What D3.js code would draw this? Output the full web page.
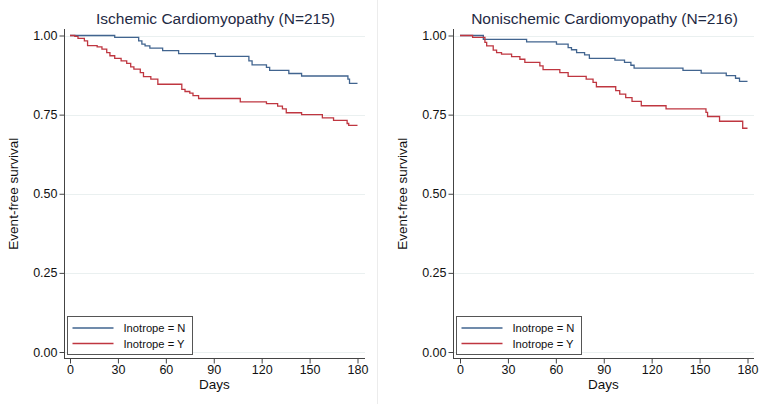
<!DOCTYPE html>
<html><head><meta charset="utf-8">
<script src="https://cdn.jsdelivr.net/npm/d3@7"></script>
<style>body{margin:0;background:#fff}svg{display:block}text{font-family:"Liberation Sans",Arial,sans-serif}</style>
</head><body><svg id="c" width="764" height="404"></svg>
<script>
// ---- data ----
const xTicks = [0, 30, 60, 90, 120, 150, 180];
const yTicks = [0, 0.25, 0.5, 0.75, 1];
const seriesNames = ["Inotrope = N", "Inotrope = Y"];
const panelTitles = ["Ischemic Cardiomyopathy (N=215)", "Nonischemic Cardiomyopathy (N=216)"];

const ischN_days = [0, 28, 43, 45, 47, 50, 58, 68, 91, 112, 114, 123, 125, 137, 145, 174, 175, 180];
const ischN_surv = [1, 0.994, 0.983, 0.973, 0.967, 0.960, 0.952, 0.943, 0.934, 0.920, 0.907, 0.899, 0.890, 0.880, 0.872, 0.862, 0.849, 0.849];
const ischY_days = [0, 3, 5, 9, 11, 17, 20, 23, 25, 28, 32, 35.5, 38, 40, 44, 46, 50.6, 55, 70, 72, 75, 77, 80.5, 106.6, 123, 130, 133, 135.4, 145, 158, 165, 173.5, 174.5, 180];
const ischY_surv = [1, 0.997, 0.991, 0.983, 0.968, 0.964, 0.957, 0.946, 0.936, 0.928, 0.920, 0.912, 0.901, 0.894, 0.883, 0.870, 0.862, 0.846, 0.830, 0.823, 0.818, 0.810, 0.801, 0.790, 0.785, 0.777, 0.768, 0.756, 0.750, 0.740, 0.732, 0.722, 0.716, 0.716];
const nonN_days = [0, 14.6, 41.7, 60.4, 67.7, 69.8, 73, 78, 81, 97, 103, 107, 109, 139.6, 151, 166.7, 172.5, 175, 180];
const nonN_surv = [1, 0.988, 0.980, 0.973, 0.962, 0.955, 0.946, 0.939, 0.928, 0.922, 0.915, 0.906, 0.897, 0.890, 0.881, 0.873, 0.865, 0.855, 0.855];
const nonY_days = [0, 7.9, 15.6, 16.7, 20.8, 22.9, 26, 32.3, 37.5, 40.6, 50, 52, 62.5, 67.7, 79, 83.3, 85.4, 97.5, 100, 103.75, 107.7, 113.5, 129, 154, 155, 162.5, 177, 180];
const nonY_surv = [1, 0.994, 0.978, 0.967, 0.954, 0.946, 0.941, 0.933, 0.925, 0.915, 0.904, 0.892, 0.883, 0.871, 0.862, 0.852, 0.838, 0.826, 0.815, 0.804, 0.792, 0.778, 0.768, 0.757, 0.744, 0.729, 0.707, 0.707];

const colors = ["#41648f", "#bf3640"];
const panels = [
  {title: panelTitles[0], curves: [[ischN_days, ischN_surv], [ischY_days, ischY_surv]], axisX: 64, x0: 70, x1: 357.5, right: 365},
  {title: panelTitles[1], curves: [[nonN_days, nonN_surv], [nonY_days, nonY_surv]], axisX: 453, x0: 460, x1: 747.5, right: 754}
];

const svg = d3.select("#c");
// separator between panels
svg.append("line").attr("x1", 377.5).attr("x2", 377.5).attr("y1", 0).attr("y2", 404)
  .attr("stroke", "#ececec").attr("stroke-width", 1);

const axisBottom = 358.5, axisTop = 29;
const y = d3.scaleLinear().domain([0, 1]).range([352, 35.5]);

panels.forEach(p => {
  const x = d3.scaleLinear().domain([0, 180]).range([p.x0, p.x1]);
  const g = svg.append("g");
  // gridlines
  g.selectAll(".grid").data(yTicks).join("line")
    .attr("x1", p.axisX + 1).attr("x2", p.right)
    .attr("y1", d => Math.round(y(d)) + 0.5).attr("y2", d => Math.round(y(d)) + 0.5)
    .attr("stroke", "#eaf0f0").attr("stroke-width", 1);
  // y axis
  const ya = g.append("g").attr("transform", `translate(${p.axisX + 0.5},0)`)
    .call(d3.axisLeft(y).tickValues(yTicks).tickFormat(d3.format(".2f")).tickSize(5).tickSizeOuter(0));
  ya.select(".domain").remove();
  ya.append("line").attr("y1", axisTop).attr("y2", axisBottom).attr("stroke", "#444");
  ya.selectAll(".tick line").attr("stroke", "#444");
  ya.selectAll(".tick text").attr("font-size", 12.5).attr("fill", "#111").attr("x", -7)
    .attr("font-family", "Liberation Sans, Arial, sans-serif");
  // x axis
  const xa = g.append("g").attr("transform", `translate(0,${axisBottom})`)
    .call(d3.axisBottom(x).tickValues(xTicks).tickSize(5).tickSizeOuter(0));
  xa.select(".domain").remove();
  xa.append("line").attr("x1", p.axisX).attr("x2", p.right).attr("stroke", "#444");
  xa.selectAll(".tick line").attr("stroke", "#444");
  xa.selectAll(".tick text").attr("font-size", 12.5).attr("fill", "#111").attr("y", 7)
    .attr("font-family", "Liberation Sans, Arial, sans-serif");
  // axis titles
  g.append("text").attr("x", (p.axisX + p.right) / 2).attr("y", 389)
    .attr("text-anchor", "middle").attr("font-size", 13.5).attr("fill", "#111").text("Days");
  g.append("text").attr("transform", `translate(${p.axisX - 46},${(axisTop + axisBottom) / 2}) rotate(-90)`)
    .attr("text-anchor", "middle").attr("font-size", 13.5).attr("fill", "#111").text("Event-free survival");
  // title
  g.append("text").attr("x", (p.axisX + p.right) / 2 + 1).attr("y", 24)
    .attr("text-anchor", "middle").attr("font-size", 15.5).attr("fill", "#1f2a44").text(p.title);
  // curves
  const line = d3.line().x(d => x(d[0])).y(d => y(d[1])).curve(d3.curveStepAfter);
  p.curves.forEach((c, i) => {
    const pts = c[0].map((d, k) => [d, c[1][k]]);
    g.append("path").attr("d", line(pts)).attr("fill", "none")
      .attr("stroke", colors[i]).attr("stroke-width", 1.3);
  });
  // legend
  const lx = p.axisX + 3.5, ly = 316.5;
  const lg = g.append("g");
  lg.append("rect").attr("x", lx).attr("y", ly).attr("width", 125).attr("height", 38)
    .attr("fill", "#fff").attr("stroke", "#555").attr("stroke-width", 1);
  seriesNames.forEach((s, i) => {
    const yy = ly + 11.5 + i * 15.5;
    lg.append("line").attr("x1", lx + 5).attr("x2", lx + 46).attr("y1", yy).attr("y2", yy)
      .attr("stroke", colors[i]).attr("stroke-width", 1.3);
    lg.append("text").attr("x", lx + 56).attr("y", yy + 4).attr("font-size", 11.2)
      .attr("fill", "#111").text(s);
  });
});
</script></body></html>
